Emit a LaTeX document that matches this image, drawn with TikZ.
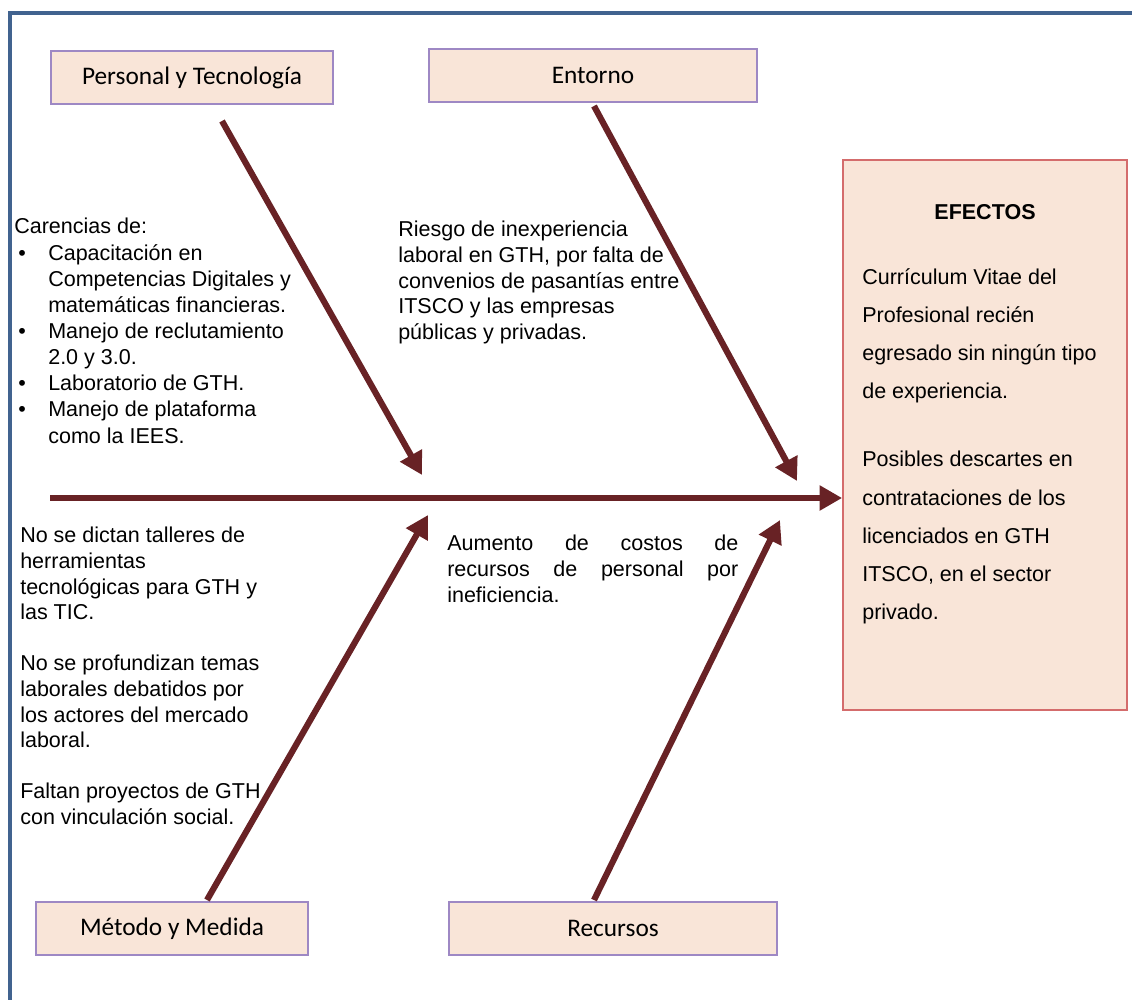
\documentclass[tikz,border=0pt]{standalone}
\usepackage{fontspec}
\setmainfont{Liberation Sans}
\newfontfamily\labelfont{Carlito}
\usetikzlibrary{arrows.meta,positioning}

\definecolor{peach}{RGB}{249,229,216}
\definecolor{lilac}{RGB}{158,136,196}
\definecolor{rose}{RGB}{212,108,108}
\definecolor{maroon}{RGB}{104,34,37}
\definecolor{framec}{RGB}{65,99,143}

\tikzset{
  cat/.style={draw=lilac, fill=peach, line width=0.8pt, minimum height=1.325cm,
    font=\labelfont\fontsize{18}{20}\selectfont},
  efebox/.style={draw=rose, fill=peach, line width=1.2pt, minimum width=7.1cm, minimum height=13.75cm},
  txt/.style={align=left, inner sep=0pt, anchor=north west, font=\fontsize{15.3}{18.2}\selectfont},
  bone/.style={draw=maroon, line width=4.4pt, -{Triangle[length=16pt,width=17pt]}},
}

\begin{document}
\begin{tikzpicture}[x=0.025cm,y=-0.025cm]
  \useasboundingbox (0,0) rectangle (1132,1000);
  \draw[framec, line width=3pt] (10,1000) -- (10,13) -- (1132,13);

  % categorias
  \node[cat, minimum width=7.05cm] (pt)  at (192,77.5)  {Personal y Tecnología};
  \node[cat, minimum width=8.2cm]  (ent) at (593,75.5)  {Entorno};
  \node[cat, minimum width=6.8cm]  (mm)  at (172,928.5) {Método y Medida};
  \node[cat, minimum width=8.2cm]  (rec) at (613,928.5) {Recursos};

  % efectos
  \node[efebox] (efe) at (985,435) {};
  \node[font=\bfseries\fontsize{15.3}{18}\selectfont] (efe-t) at (985,212) {EFECTOS};
  \node[txt, font=\fontsize{15.3}{27.2}\selectfont] (efe-a) at (862,268)
    {Currículum Vitae del\\Profesional recién\\egresado sin ningún tipo\\de experiencia.};
  \node[txt, font=\fontsize{15.3}{27.2}\selectfont] (efe-b) at (862,451)
    {Posibles descartes en\\contrataciones de los\\licenciados en GTH\\ITSCO, en el sector\\privado.};

  % causas
  \node[txt, font=\fontsize{15.3}{18.6}\selectfont] (pt-txt) at (14,218)
    {Carencias de:\\
     \makebox[0.85cm][l]{\hspace{0.1cm}\textbullet}Capacitación en\\
     \hspace*{0.85cm}Competencias Digitales y\\
     \hspace*{0.85cm}matemáticas financieras.\\
     \makebox[0.85cm][l]{\hspace{0.1cm}\textbullet}Manejo de reclutamiento\\
     \hspace*{0.85cm}2.0 y 3.0.\\
     \makebox[0.85cm][l]{\hspace{0.1cm}\textbullet}Laboratorio de GTH.\\
     \makebox[0.85cm][l]{\hspace{0.1cm}\textbullet}Manejo de plataforma\\
     \hspace*{0.85cm}como la IEES.};
  \node[txt] (ent-txt) at (398,221)
    {Riesgo de inexperiencia\\laboral en GTH, por falta de\\convenios de pasantías entre\\ITSCO y las empresas\\públicas y privadas.};
  \node[txt] (mm-txt) at (20,527)
    {No se dictan talleres de\\herramientas\\tecnológicas para GTH y\\las TIC.\\[18.2pt]
     No se profundizan temas\\laborales debatidos por\\los actores del mercado\\laboral.\\[18.2pt]
     Faltan proyectos de GTH\\con vinculación social.};
  \node[txt] (rec-txt) at (447,535)
    {\makebox[7.275cm][s]{Aumento de costos de}\\
     \makebox[7.275cm][s]{recursos de personal por}\\
     ineficiencia.};

  % espinas
  \coordinate (cola) at (50,498);
  \coordinate (pt-a) at (222,121);  \coordinate (pt-b) at (422,475);
  \coordinate (ent-a) at (594,106); \coordinate (ent-b) at (797,481);
  \coordinate (mm-a) at (207,900);  \coordinate (mm-b) at (428,515);
  \coordinate (rec-a) at (594,900); \coordinate (rec-b) at (780,520);
  \draw[bone] (cola) -- (cola -| efe.west);
  \draw[bone] (pt-a) -- (pt-b);
  \draw[bone] (ent-a) -- (ent-b);
  \draw[bone] (mm-a) -- (mm-b);
  \draw[bone] (rec-a) -- (rec-b);
\end{tikzpicture}
\end{document}
